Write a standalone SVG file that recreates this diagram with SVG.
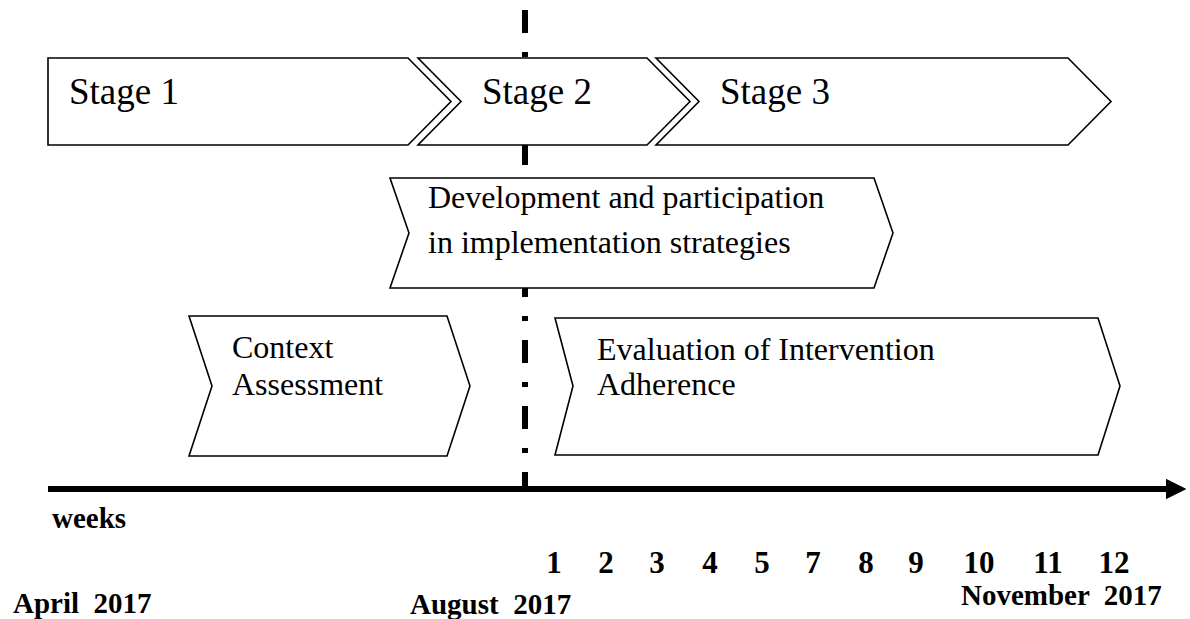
<svg xmlns="http://www.w3.org/2000/svg" width="1190" height="619" viewBox="0 0 1190 619">
<style>
.box{fill:#fff;stroke:#000;stroke-width:1.6;stroke-linejoin:miter}
.st{font-family:"Liberation Serif",serif;font-size:37px;fill:#000}
.tx{font-family:"Liberation Serif",serif;font-size:32px;fill:#000}
.bd{font-family:"Liberation Serif",serif;font-size:29px;font-weight:bold;fill:#000}
.nm{font-family:"Liberation Serif",serif;font-size:31px;font-weight:bold;fill:#000;text-anchor:middle}
</style>
<defs>
<marker id="ah" viewBox="0 0 10 10" refX="0" refY="5" markerWidth="3.4" markerHeight="3.4" orient="auto" markerUnits="strokeWidth">
<path d="M0,0 L10,5 L0,10 Z" fill="#000"/>
</marker>
</defs>
<g id="connectors">
<line x1="525" y1="10" x2="525" y2="489" stroke="#000" stroke-width="6" stroke-dasharray="23 19 5 19"/>
<line x1="48" y1="489" x2="1166" y2="489" stroke="#000" stroke-width="6" marker-end="url(#ah)"/>
</g>
<g id="stage1"><path class="box" d="M48,58 L408,58 L451,101.5 L408,145 L48,145 Z"/><text class="st" x="69" y="104">Stage 1</text></g>
<g id="stage2"><path class="box" d="M418,58 L647,58 L690,101.5 L647,145 L418,145 L461,101.5 Z"/><text class="st" x="482" y="104">Stage 2</text></g>
<g id="stage3"><path class="box" d="M656,58 L1068,58 L1111,101.5 L1068,145 L656,145 L699,101.5 Z"/><text class="st" x="720" y="104">Stage 3</text></g>
<g id="development"><path class="box" d="M390,178 L874,178 L893,233 L874,288 L390,288 L409,233 Z"/><text class="tx" x="428" y="208">Development and participation</text><text class="tx" x="428" y="253">in implementation strategies</text></g>
<g id="context"><path class="box" d="M189,316 L447,316 L470,386 L447,456 L189,456 L212,386 Z"/><text class="tx" x="232" y="358">Context</text><text class="tx" x="232" y="395">Assessment</text></g>
<g id="evaluation"><path class="box" d="M555,318 L1098,318 L1120,386 L1098,455 L555,455 L573,386 Z"/><text class="tx" x="597" y="360">Evaluation of Intervention</text><text class="tx" x="597" y="395">Adherence</text></g>
<g id="labels">
<text class="bd" x="52" y="528">weeks</text>
<text class="nm" x="554" y="573">1</text>
<text class="nm" x="606" y="573">2</text>
<text class="nm" x="657" y="573">3</text>
<text class="nm" x="710" y="573">4</text>
<text class="nm" x="762" y="573">5</text>
<text class="nm" x="813" y="573">7</text>
<text class="nm" x="866" y="573">8</text>
<text class="nm" x="916" y="573">9</text>
<text class="nm" x="979" y="573">10</text>
<text class="nm" x="1048" y="573">11</text>
<text class="nm" x="1114" y="573">12</text>
<text class="bd" x="13" y="613" xml:space="preserve">April  2017</text>
<text class="bd" x="410" y="614" xml:space="preserve">August  2017</text>
<text class="bd" x="961" y="605" font-size="28" xml:space="preserve">November  2017</text>
</g>
</svg>
